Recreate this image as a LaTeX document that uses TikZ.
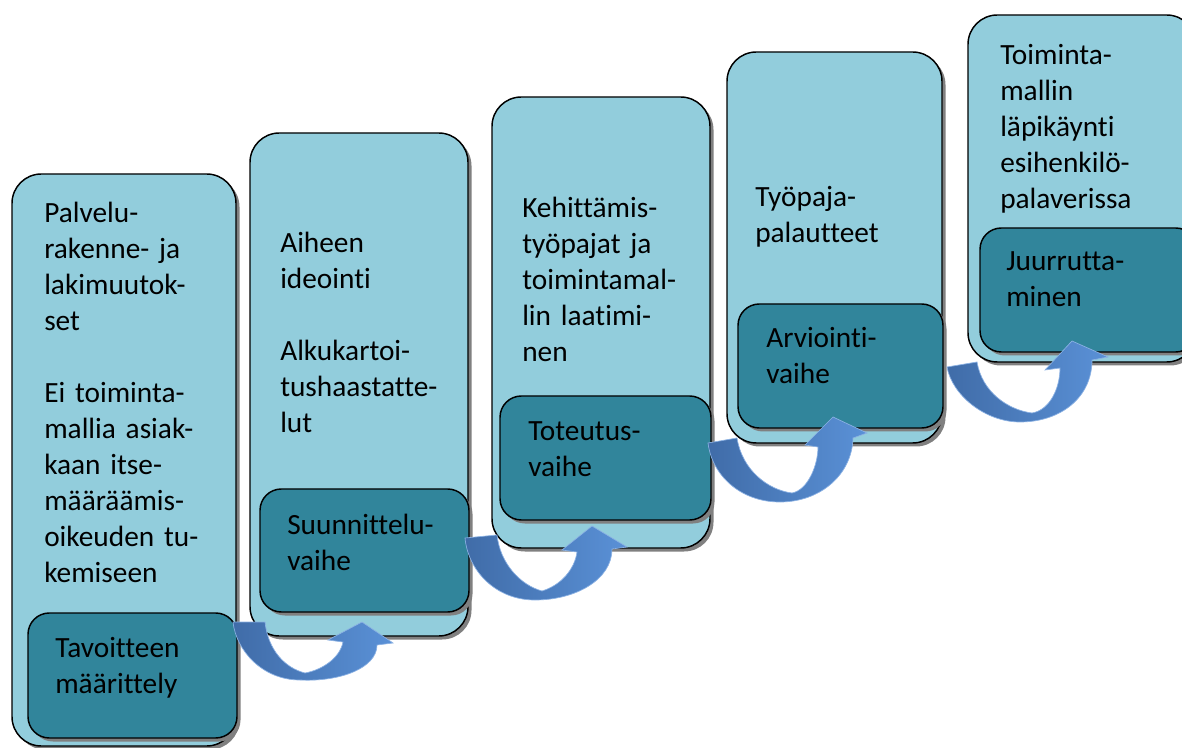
\documentclass[tikz,border=0pt]{standalone}
\usepackage{fontspec}
\setmainfont{Carlito}[Ligatures={NoCommon,NoContextual}]
\definecolor{lightaqua}{RGB}{146,205,220}
\definecolor{darkaqua}{RGB}{49,133,155}
\definecolor{shadowc}{RGB}{128,128,128}
\definecolor{arrdark}{RGB}{64,108,168}
\definecolor{arrlight}{RGB}{90,145,215}
\definecolor{arredge}{RGB}{140,178,228}
\begin{document}
\begin{tikzpicture}[x=0.75pt,y=-0.75pt,
  outerbox/.style={fill=lightaqua,draw=black,line width=1.1pt,rounded corners=22pt},
  innerbox/.style={fill=darkaqua,draw=black,line width=1.1pt,rounded corners=16pt},
  shadowbox/.style={fill=shadowc,rounded corners=#1,shift={(3.5,3.5)}},
  txt/.style={anchor=base west,inner sep=0pt,text width=165pt,align=left,
    font=\fontsize{22}{27}\selectfont},
  blockarrow/.style={left color=arrdark,right color=arrlight,draw=arredge,line width=0.5pt}]
\useasboundingbox (0,0) rectangle (1182,748);
\clip (0,0) rectangle (1182,748);
\fill[white] (0,0) rectangle (1182,748);
% stage boxes
\newcommand\stagebox[7]{%
  \fill[shadowbox=22pt] (#1,#2) rectangle (#3,#4);
  \draw[outerbox] (#1,#2) rectangle (#3,#4);
  \fill[shadowbox=16pt] (#5,#6) rectangle (#3+1,#7);
  \draw[innerbox] (#5,#6) rectangle (#3+1,#7);}
\stagebox{12}{174}{236}{746}{28}{613}{738}
\stagebox{250}{133}{468}{636}{260}{489}{612}
\stagebox{492}{97}{710}{548}{500}{396}{520}
\stagebox{727}{52}{942}{443}{738}{304}{428}
\stagebox{968}{15}{1196}{362}{980}{228}{352}
% texts
\node[txt] (t1) at (44,223) {Palvelu-\\rakenne- ja\\lakimuutok-\\set\\[27pt]Ei toiminta-\\mallia asiak-\\kaan itse-\\määräämis-\\oikeuden tu-\\kemiseen};
\node[txt] (s1) at (55,657) {Tavoitteen\\määrittely};
\node[txt] (t2) at (280,253) {Aiheen\\ideointi\\[27pt]Alkukartoi-\\tushaastatte-\\lut};
\node[txt] (s2) at (287,534) {Suunnittelu-\\vaihe};
\node[txt] (t3) at (522,218) {Kehittämis-\\työpajat ja\\toimintamal-\\lin laatimi-\\nen};
\node[txt] (s3) at (528,441) {Toteutus-\\vaihe};
\node[txt] (t4) at (755,207) {Työpaja-\\palautteet};
\node[txt] (s4) at (766,348) {Arviointi-\\vaihe};
\node[txt] (t5) at (1000,65) {Toiminta-\\mallin\\läpikäynti\\esihenkilö-\\palaverissa};
\node[txt] (s5) at (1006,271) {Juurrutta-\\minen};
% curved block arrows
\draw[blockarrow] (233,622) -- (265,622) .. controls (268,650) and (285,668) .. (305,673)
  .. controls (322,670) and (340,658) .. (343,642) -- (328,640) -- (362,622) -- (393,643) -- (377,645)
  .. controls (377,668) and (340,682) .. (300,680) .. controls (262,680) and (236,650) .. (233,622) -- cycle;
\draw[blockarrow] (465,538) -- (497,535) .. controls (500,563) and (520,585) .. (542,591)
  .. controls (562,585) and (575,568) .. (577,552) -- (562,550) -- (592,526) -- (627,547) -- (612,549)
  .. controls (612,580) and (575,600) .. (535,600) .. controls (495,600) and (468,570) .. (465,538) -- cycle;
\draw[blockarrow] (708,443) -- (737,438) .. controls (742,470) and (768,490) .. (792,493)
  .. controls (808,490) and (818,465) .. (818,447) -- (805,445) -- (833,417) -- (867,433) -- (853,438)
  .. controls (852,475) and (820,502) .. (780,502) .. controls (740,502) and (712,475) .. (708,443) -- cycle;
\draw[blockarrow] (947,367) -- (977,362) .. controls (982,392) and (1008,410) .. (1032,413)
  .. controls (1050,410) and (1060,388) .. (1060,368) -- (1045,370) -- (1072,341) -- (1108,357) -- (1092,360)
  .. controls (1092,398) and (1060,422) .. (1020,422) .. controls (985,422) and (952,395) .. (947,367) -- cycle;
\end{tikzpicture}
\end{document}
